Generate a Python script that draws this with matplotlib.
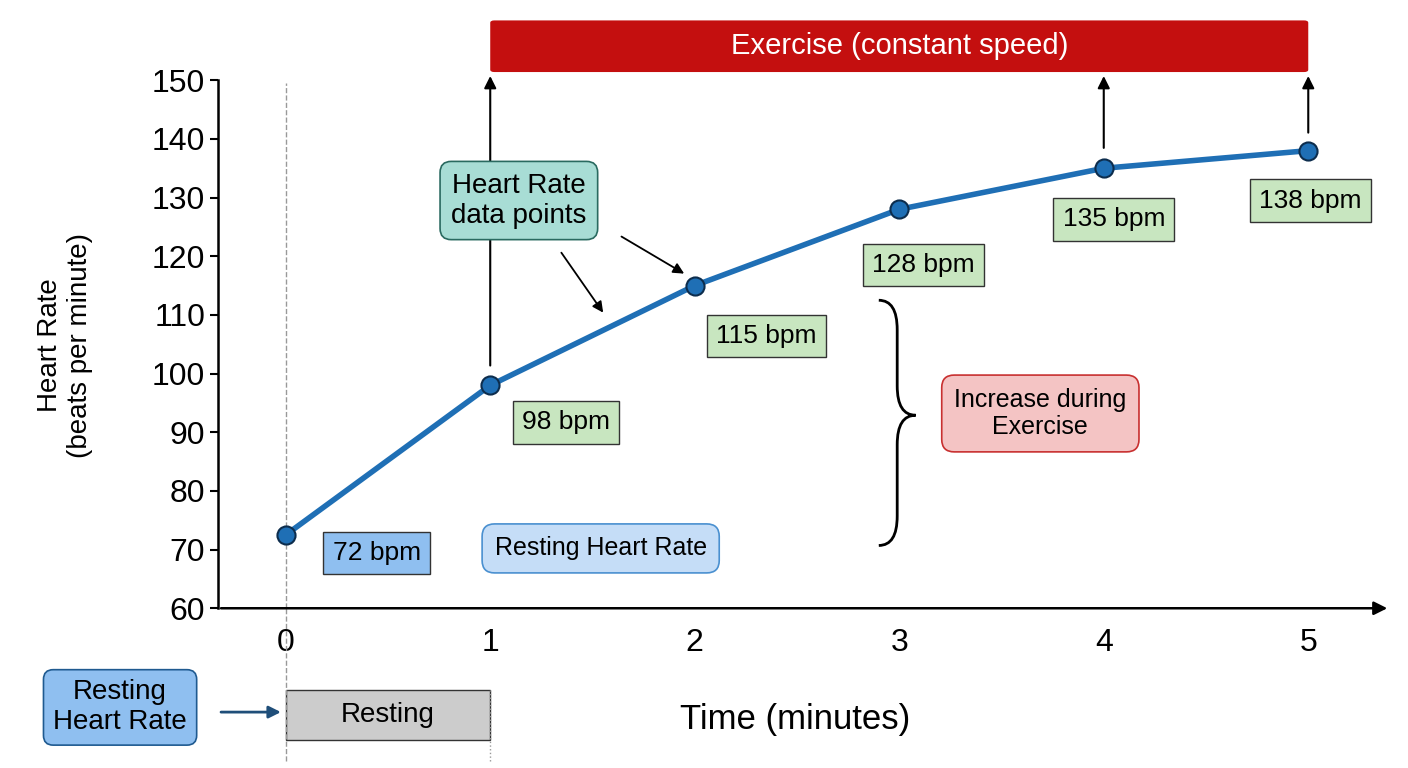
import numpy as np
import matplotlib.pyplot as plt
from matplotlib.patches import FancyBboxPatch, Rectangle, PathPatch
from matplotlib.path import Path

plt.rcParams["font.family"] = ["Liberation Sans", "DejaVu Sans"]

minutes = [0, 1, 2, 3, 4, 5]
heart_rate = [72.5, 98, 115, 128, 135, 138]
bpm_labels = ["72 bpm", "98 bpm", "115 bpm", "128 bpm", "135 bpm", "138 bpm"]
label_pos = [(0.445, 69.4), (1.37, 91.7), (2.35, 106.4), (3.12, 118.5), (4.05, 126.3), (5.01, 129.5)]

blue = "#1f6fb5"
green_face = "#c8e6c0"
fig = plt.figure(figsize=(14.08, 7.68), dpi=100)
ax = fig.add_axes([0.155, 0.208, 0.825, 0.6875])
ax.set_xlim(-0.33, 5.35)
ax.set_ylim(60, 150)
for s in ["top", "right", "bottom"]:
    ax.spines[s].set_visible(False)
ax.spines["left"].set_linewidth(1.8)
ax.annotate("", xy=(5.4, 60), xytext=(-0.33, 60), xycoords="data",
            arrowprops=dict(arrowstyle="-|>", lw=1.8, color="black", mutation_scale=20),
            annotation_clip=False)
ax.set_xticks(minutes)
ax.set_yticks(range(60, 151, 10))
ax.tick_params(labelsize=23, width=1.5, length=6)
ax.tick_params(axis="x", pad=14, length=0)

ax.plot([0, 0], [60, 149.5], ls="--", color="#999999", lw=1)
ax.plot([0, 0], [34, 60], ls="--", color="#999999", lw=1, clip_on=False)
ax.plot([1, 1], [34, 46], ls=":", color="#999999", lw=1, clip_on=False)

ax.plot(minutes, heart_rate, color=blue, lw=4, zorder=3)
ax.scatter(minutes, heart_rate, s=170, color=blue, edgecolor="#0d2d4d", lw=1.5, zorder=4)

for i, (txt, (x, y)) in enumerate(zip(bpm_labels, label_pos)):
    fc = "#8fbff0" if i == 0 else green_face
    ax.text(x, y, txt, fontsize=19, ha="center", va="center", zorder=5,
            bbox=dict(boxstyle="square,pad=0.35", fc=fc, ec="#333333", lw=1))

# exercise bar and arrows
ax.add_patch(FancyBboxPatch((1, 151.4), 4, 8.8, boxstyle="round,pad=0,rounding_size=0.02",
                            fc="#c40f0f", ec="none", clip_on=False, mutation_aspect=20))
ax.text(3, 155.8, "Exercise (constant speed)", color="white", fontsize=21,
        ha="center", va="center")
for x, y0 in [(1, 100.9), (4, 138), (5, 140.6)]:
    ax.annotate("", xy=(x, 151.2), xytext=(x, y0),
                arrowprops=dict(arrowstyle="-|>", lw=1.5, color="black", mutation_scale=18),
                annotation_clip=False)

ax.text(1.14, 129.5, "Heart Rate\ndata points", fontsize=20, ha="center", va="center", zorder=5,
        bbox=dict(boxstyle="round,pad=0.4", fc="#a8ddd5", ec="#2a6a60", lw=1.2))
ax.annotate("", xy=(1.56, 110), xytext=(1.34, 121),
            arrowprops=dict(arrowstyle="-|>", lw=1.3, color="black", mutation_scale=16))
ax.annotate("", xy=(1.96, 116.8), xytext=(1.63, 123.6),
            arrowprops=dict(arrowstyle="-|>", lw=1.3, color="black", mutation_scale=16))

ax.text(1.54, 70.2, "Resting Heart Rate", fontsize=18, ha="center", va="center", zorder=5,
        bbox=dict(boxstyle="round,pad=0.5", fc="#c5ddf7", ec="#4a90d0", lw=1.2))

# curly brace
bx, tip = 2.9, 3.08
top, mid, bot = 112.5, 92.9, 70.7
verts = [(bx, top), (bx + 0.09, top), (bx + 0.09, top - 5),
         (bx + 0.09, mid + 5), (bx + 0.09, mid), (tip, mid),
         (bx + 0.09, mid), (bx + 0.09, mid - 5),
         (bx + 0.09, bot + 5), (bx + 0.09, bot), (bx, bot)]
codes = [Path.MOVETO, Path.CURVE3, Path.CURVE3, Path.LINETO, Path.CURVE3, Path.CURVE3,
         Path.CURVE3, Path.CURVE3, Path.LINETO, Path.CURVE3, Path.CURVE3]
ax.add_patch(PathPatch(Path(verts, codes), fc="none", ec="black", lw=2))
ax.text(3.69, 93.2, "Increase during\nExercise", fontsize=18, ha="center", va="center",
        bbox=dict(boxstyle="round,pad=0.5", fc="#f4c4c4", ec="#c83030", lw=1.2))

# resting segment below axis
ax.add_patch(Rectangle((0, 37.5), 1, 8.5, fc="#cccccc", ec="#333333", lw=1, clip_on=False))
ax.text(0.5, 41.8, "Resting", fontsize=20, ha="center", va="center")
ax.text(-0.81, 43.1, "Resting\nHeart Rate", fontsize=20, ha="center", va="center",
        bbox=dict(boxstyle="round,pad=0.35", fc="#8fbff0", ec="#1f5a90", lw=1.2))
ax.annotate("", xy=(-0.01, 42.3), xytext=(-0.33, 42.3),
            arrowprops=dict(arrowstyle="-|>", lw=2, color="#1f4e79", mutation_scale=18),
            annotation_clip=False)

fig.text(795 / 1408, 1 - 720 / 768, "Time (minutes)", fontsize=25, ha="center", va="center")
fig.text(65 / 1408, 1 - 345 / 768, "Heart Rate\n(beats per minute)", fontsize=20,
         ha="center", va="center", rotation=90)

fig.savefig("out.png", dpi=100)
